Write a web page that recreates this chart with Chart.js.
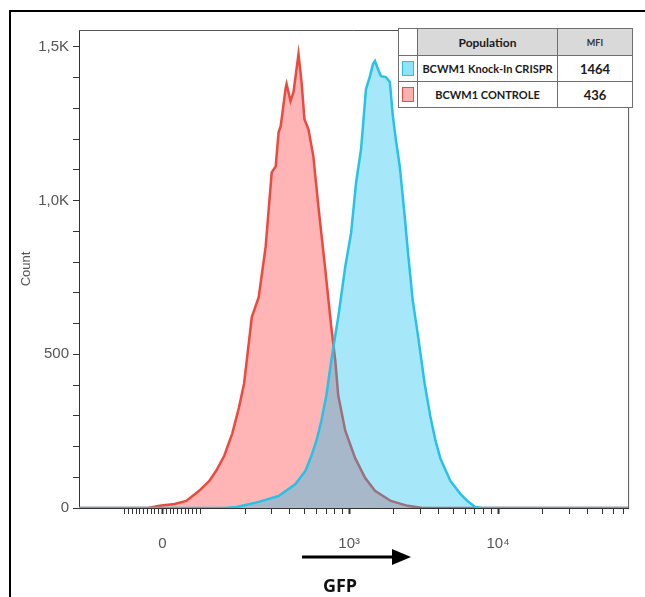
<!DOCTYPE html>
<html>
<head>
<meta charset="utf-8">
<script src="https://cdn.jsdelivr.net/npm/chart.js@4.4.1/dist/chart.umd.min.js"></script>
<style>
    html, body { margin: 0; padding: 0; background: #fff; }
    #wrap { position: relative; width: 645px; height: 597px; overflow: hidden; }
    #chart { position: absolute; left: 0; top: 0; }
    #popTable {
        position: absolute; left: 398px; top: 28px; width: 235px;
        border-collapse: collapse; table-layout: fixed; background: #fff;
        font-family: Lato, "Open Sans", sans-serif; font-weight: bold; color: #1a1a1a;
    }
    #popTable td { border: 1px solid #6f6f6f; padding: 0; text-align: center; white-space: nowrap; overflow: hidden; }
    #popTable tr.head td { height: 26px; font-size: 12px; }
    #popTable tr.head td.grey { background: #d9d9d9; }
    #popTable tr.head td.mfi { font-size: 9px; color: #333; }
    #popTable tr.row td { height: 25px; font-size: 11px; }
    #popTable tr.row td.val { font-size: 13px; }
    .swatch { display: inline-block; width: 10px; height: 13px; vertical-align: middle; }
    #xTitle {
        position: absolute; left: 300px; width: 80px; top: 573px; text-align: center;
        font: bold 18px "Open Sans", sans-serif; color: #111;
    }
</style>
</head>
<body>
<div id="wrap">
    <canvas id="chart" width="645" height="597"></canvas>
    <table id="popTable"><tbody id="popBody"></tbody></table>
    <div id="xTitle">GFP</div>
</div>
<script>
// x = GFP fluorescence, y = event count
const xMin = -203, xMax = 74700;
const yMax = 1555;
const xLabelValues = [0, 1000, 10000];
const xLabelTexts = ['0', '10³', '10⁴'];
const yLabelValues = [0, 500, 1000, 1500];
const yLabelTexts = ['0', '500', '1,0K', '1,5K'];

const seriesNames = ['BCWM1 Knock-In CRISPR', 'BCWM1 CONTROLE'];
const seriesMFI = [1464, 436];
const lineColors = ['#27c2e8', '#ec4a3f'];
const fillColors = ['rgba(0, 189, 240, 0.35)', 'rgba(255, 120, 120, 0.55)'];
const swatchFill = ['#8fe3f6', '#f8b2b0'];

const knockInX = [-203, 144, 176, 247, 336, 436, 509, 558, 603, 651, 703, 759, 807, 845, 941, 1031, 1114, 1202, 1298, 1380,
    1445, 1491, 1561, 1635, 1765, 1877, 1966, 2058, 2188, 2363, 2474, 2671, 2884, 3212, 3522, 3802, 4107, 4786, 5580, 6216,
    7028, 7824, 74700];
const knockInY = [0, 0, 3, 20, 39, 78, 121, 170, 219, 284, 366, 480, 562, 621, 784, 895, 1059, 1167, 1363, 1405,
    1444, 1454, 1428, 1405, 1402, 1386, 1275, 1199, 1111, 948, 840, 676, 569, 405, 294, 219, 160, 88, 46, 23,
    3, 0, 0];

const controlX = [-203, -39, -8, 32, 63, 97, 115, 128, 145, 164, 182, 197, 222, 247, 275, 302, 321, 336, 347, 374,
    380, 404, 423, 457, 479, 501, 533, 575, 622, 692, 759, 807, 845, 941, 1096, 1279, 1491, 1905, 2474, 3114, 74700];
const controlY = [0, 0, 7, 13, 23, 56, 88, 121, 170, 242, 327, 405, 621, 686, 850, 1092, 1111, 1222, 1242, 1363,
    1379, 1324, 1353, 1477, 1386, 1265, 1232, 1144, 980, 775, 588, 480, 366, 252, 163, 98, 56, 23, 7, 0, 0];

// biexponential display: linear around zero, log above +-100
const LIN = 100, LINDEC = 0.2533;
function biex(v) {
    const a = Math.abs(v);
    const d = a <= LIN ? a / LIN * LINDEC : LINDEC + Math.log10(a / LIN);
    return v < 0 ? -d : d;
}
function biexInv(d) {
    const a = Math.abs(d);
    const v = a <= LINDEC ? a / LINDEC * LIN : LIN * Math.pow(10, a - LINDEC);
    return d < 0 ? -v : v;
}

class BiexScale extends Chart.Scale {
    static id = 'biex';
    static defaults = {};
    determineDataLimits() {
        this.min = this.options.min;
        this.max = this.options.max;
    }
    buildTicks() {
        const vals = [];
        for (let v = -100; v <= 90; v += 10) vals.push(v);
        for (let dec = 100; dec <= 10000; dec *= 10)
            for (let m = 1; m <= 9; m++) vals.push(dec * m);
        return vals.filter(v => v >= this.min && v <= this.max).map(v => ({ value: v, major: xLabelValues.includes(v) }));
    }
    configure() {
        super.configure();
        this._lo = biex(this.min);
        this._hi = biex(this.max);
    }
    getLabelForValue(v) { return String(v); }
    getPixelForValue(v) {
        return this.getPixelForDecimal((biex(v) - this._lo) / (this._hi - this._lo));
    }
    getValueForPixel(p) {
        return biexInv(this._lo + this.getDecimalForPixel(p) * (this._hi - this._lo));
    }
}
Chart.register(BiexScale);

// outer frame, plot box and GFP arrow
const decorPlugin = {
    id: 'decor',
    beforeDraw(chart) {
        const ctx = chart.ctx;
        ctx.save();
        ctx.strokeStyle = '#000';
        ctx.lineWidth = 2;
        ctx.beginPath();
        ctx.moveTo(10, chart.height);
        ctx.lineTo(10, 11);
        ctx.lineTo(chart.width, 11);
        ctx.stroke();
        ctx.restore();
    },
    afterDraw(chart) {
        const ctx = chart.ctx;
        const { left, top, right, bottom } = chart.chartArea;
        ctx.save();
        ctx.strokeStyle = '#555';
        ctx.lineWidth = 1;
        ctx.beginPath();
        ctx.moveTo(left, top + 0.5);
        ctx.lineTo(right + 0.5, top + 0.5);
        ctx.lineTo(right + 0.5, bottom);
        ctx.stroke();

        ctx.strokeStyle = '#000';
        ctx.fillStyle = '#000';
        ctx.lineWidth = 3;
        ctx.beginPath();
        ctx.moveTo(302, 557);
        ctx.lineTo(396, 557);
        ctx.stroke();
        ctx.beginPath();
        ctx.moveTo(392, 549);
        ctx.lineTo(411, 557);
        ctx.lineTo(392, 565);
        ctx.closePath();
        ctx.fill();
        ctx.restore();
    }
};

// population / MFI table
const body = document.getElementById('popBody');
body.innerHTML = `<tr class="head"><td style="width:18px"></td><td class="grey" style="width:139px">Population</td><td class="grey mfi">MFI</td></tr>` +
    seriesNames.map((n, i) => `<tr class="row">
        <td><span class="swatch" style="background:${swatchFill[i]};border:1px solid ${lineColors[i]}"></span></td>
        <td>${n}</td><td class="val">${seriesMFI[i]}</td></tr>`).join('');

new Chart(document.getElementById('chart'), {
    type: 'line',
    data: {
        datasets: [
            {
                label: seriesNames[0],
                data: knockInX.map((x, i) => ({ x: x, y: knockInY[i] })),
                borderColor: lineColors[0],
                backgroundColor: fillColors[0],
                borderWidth: 2.5,
                fill: 'origin',
                pointRadius: 0,
                tension: 0
            },
            {
                label: seriesNames[1],
                data: controlX.map((x, i) => ({ x: x, y: controlY[i] })),
                borderColor: lineColors[1],
                backgroundColor: fillColors[1],
                borderWidth: 2.5,
                fill: 'origin',
                pointRadius: 0,
                tension: 0
            }
        ]
    },
    options: {
        responsive: false,
        animation: false,
        layout: { padding: { left: 0, top: 30, right: 13, bottom: 0 } },
        plugins: { legend: { display: false }, tooltip: { enabled: false } },
        scales: {
            x: {
                type: 'biex',
                min: xMin,
                max: xMax,
                afterFit: s => { s.height = 89; },
                border: { display: true, color: '#333', width: 1 },
                grid: {
                    drawOnChartArea: false, drawTicks: true, tickLength: 6,
                    tickColor: '#333', tickWidth: c => (c.tick && c.tick.major ? 2 : 1)
                },
                ticks: {
                    autoSkip: false, maxRotation: 0, padding: 21, color: '#555',
                    font: { family: '"Liberation Sans", Arial, sans-serif', size: 15 },
                    callback: v => {
                        const k = xLabelValues.indexOf(v);
                        return k >= 0 ? xLabelTexts[k] : '';
                    }
                }
            },
            y: {
                type: 'linear',
                min: 0,
                max: yMax,
                afterFit: s => { s.width = 79; },
                afterBuildTicks: s => {
                    const t = [];
                    for (let v = 0; v <= 1500; v += 100) t.push({ value: v });
                    s.ticks = t;
                },
                border: { display: true, color: '#333', width: 1 },
                grid: { drawOnChartArea: false, drawTicks: true, tickLength: 6, tickColor: '#333' },
                ticks: {
                    autoSkip: false, padding: 4, color: '#555',
                    font: { family: '"Liberation Sans", Arial, sans-serif', size: 15 },
                    callback: v => {
                        const k = yLabelValues.indexOf(v);
                        return k >= 0 ? yLabelTexts[k] : '';
                    }
                },
                title: {
                    display: true, text: 'Count', color: '#555',
                    font: { family: '"Liberation Sans", Arial, sans-serif', size: 13 },
                    padding: { top: 19, bottom: 0 }
                }
            }
        }
    },
    plugins: [decorPlugin]
});
</script>
</body>
</html>
